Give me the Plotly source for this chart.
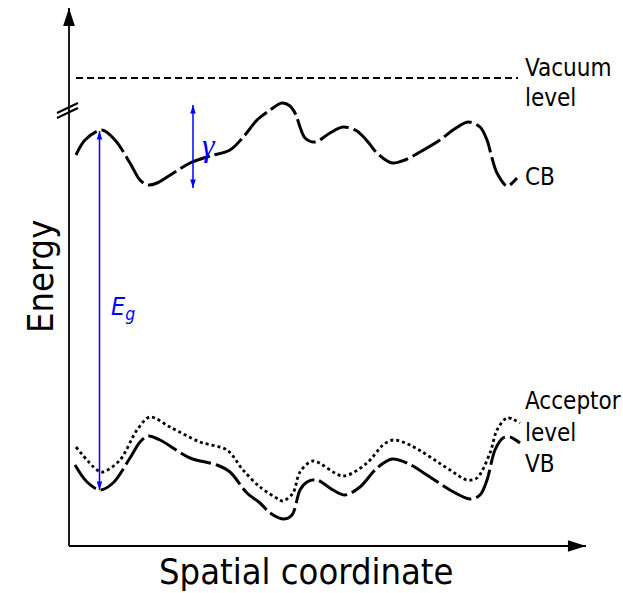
import plotly.graph_objects as go

# Band-edge profiles along the spatial coordinate (arbitrary units)
cb_x = [7, 16, 33, 46, 61, 71, 79, 88, 106, 121, 141, 161, 176, 188, 201, 213, 221, 227,
        231, 236, 246, 261, 274, 288, 299, 308, 323, 336, 351, 371, 384, 399, 411, 418,
        423, 428, 438, 448]
cb_y = [391, 406, 416, 406, 383, 366, 361, 363, 374, 383, 390, 396, 411, 426, 436, 443, 440, 431,
        419, 408, 404, 413, 419, 415, 404, 393, 383, 386, 394, 406, 416, 424, 419, 406,
        388, 373, 360, 368]

vb_x = [6, 18, 31, 44, 61, 71, 79, 91, 121, 148, 161, 178, 191, 201, 214, 223, 231, 238,
        248, 264, 276, 291, 308, 323, 338, 361, 381, 401, 411, 418, 426, 434, 441, 451]
vb_y = [81, 64, 56, 63, 88, 104, 110, 106, 88, 81, 74, 53, 43, 33, 27, 31, 56, 64,
        66, 56, 51, 59, 78, 87, 83, 69, 56, 47, 51, 66, 96, 108, 109, 103]

acc_x = [7, 28, 34, 51, 68, 81, 101, 131, 158, 174, 191, 211, 214, 224, 231, 244, 274, 298,
         314, 324, 341, 381, 398, 408, 421, 428, 438, 451]
acc_y = [99, 76, 74, 86, 116, 129, 119, 104, 96, 76, 59, 46, 45, 53, 74, 85, 70, 83,
         101, 106, 101, 76, 66, 68, 93, 116, 128, 123]

vacuum_x = [7, 449]
vacuum_y = [468, 468]

# Band gap and CB-to-vacuum spacing markers
eg_x, eg_top, eg_bottom = 30.5, 415, 56
gamma_x, gamma_top, gamma_bottom = 124, 441, 358

# Axis extents
x_tip, y_tip = 517, 538

BLUE = "#0000ff"
FONT = "DejaVu Sans Condensed, Liberation Sans, Arial, sans-serif"

fig = go.Figure()

def curve(x, y, width, dash, color="black", spline=True):
    line = dict(color=color, width=width, dash=dash)
    if spline:
        line.update(shape="spline", smoothing=0.9)
    fig.add_trace(go.Scatter(x=x, y=y, mode="lines", line=line, hoverinfo="skip"))

def heads(x, y, angles, size, color):
    fig.add_trace(go.Scatter(x=x, y=y, mode="markers", hoverinfo="skip",
                             marker=dict(symbol="arrow", angleref="up", angle=angles,
                                         size=size, color=color, line=dict(width=0))))

# Axes with arrowheads at their far ends
curve([0, 0], [0, y_tip], 1.8, "solid", spline=False)
curve([0, x_tip], [0, 0], 1.8, "solid", spline=False)
heads([0, x_tip], [y_tip, 0], [0, 90], 19, "black")

# Energy levels
curve(vacuum_x, vacuum_y, 2, "7px,4px", spline=False)
curve(cb_x, cb_y, 3, "32px,5px")
curve(acc_x, acc_y, 2.8, "3px,3px")
curve(vb_x, vb_y, 3, "32px,5px")

# Double-headed blue arrows
curve([eg_x, eg_x], [eg_bottom, eg_top], 1.5, "solid", color=BLUE, spline=False)
curve([gamma_x, gamma_x], [gamma_bottom, gamma_top], 1.5, "solid", color=BLUE, spline=False)
heads([eg_x, eg_x, gamma_x, gamma_x], [eg_bottom, eg_top, gamma_bottom, gamma_top],
      [180, 0, 180, 0], 9, BLUE)

annotations = []

def label(text, x, y, size=24, color="black", family=FONT, xanchor="left", **kw):
    annotations.append(dict(text=text, x=x, y=y, xref="x", yref="y", showarrow=False,
                            xanchor=xanchor, yanchor="middle",
                            font=dict(family=family, size=size, color=color), **kw))

label("Vacuum", 454, 478)
label("level", 454, 448)
label("CB", 454, 369)
label("Acceptor", 454, 145)
label("level", 454, 113)
label("VB", 454, 82)
label("<i>E<sub>g</sub></i>", 40, 238, size=25, color=BLUE)
label("<i>γ</i>", 131, 401, size=32, color=BLUE, family="Liberation Serif, DejaVu Serif, serif")
label("Spatial coordinate", 237, -25, size=36, xanchor="center")
label("Energy", -29, 269, size=36, xanchor="center", textangle=-90)

# Axis break marks
shapes = [
    dict(type="line", x0=-12, y0=433, x1=9, y1=443, xref="x", yref="y",
         line=dict(color="black", width=2)),
    dict(type="line", x0=-12, y0=428, x1=9, y1=438, xref="x", yref="y",
         line=dict(color="black", width=2)),
]

fig.update_layout(
    width=623, height=593,
    margin=dict(l=0, r=0, t=0, b=0),
    paper_bgcolor="white", plot_bgcolor="white",
    showlegend=False,
    xaxis=dict(range=[-69, 554], visible=False, fixedrange=True),
    yaxis=dict(range=[-47, 546], visible=False, fixedrange=True),
    annotations=annotations,
    shapes=shapes,
)

fig.write_html("out.html")
